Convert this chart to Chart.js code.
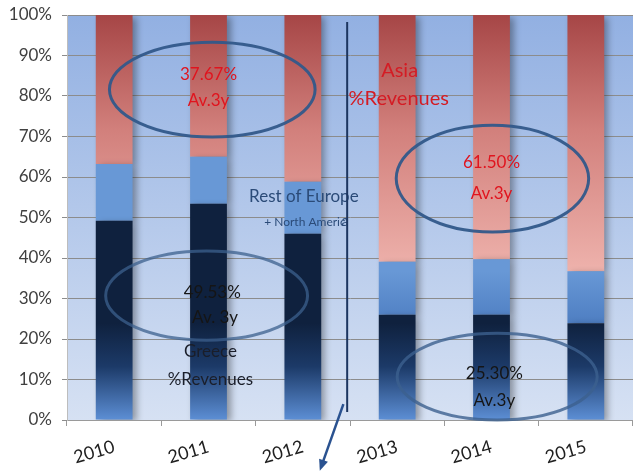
<!DOCTYPE html>
<html>
<head>
<meta charset="utf-8">
<script src="https://cdn.jsdelivr.net/npm/chart.js@4/dist/chart.umd.min.js"></script>
<style>
  html, body { margin: 0; padding: 0; background: #ffffff; }
  #wrap { width: 633px; height: 471px; }
</style>
</head>
<body>
<div id="wrap"><canvas id="chart" width="633" height="471"></canvas></div>
<script>
// Revenue split by region, share of total (%)
const years = ['2010', '2011', '2012', '2013', '2014', '2015'];
const greece = [49.2, 53.4, 46.0, 26.0, 26.0, 23.9];
const restOfEurope = [14.0, 11.6, 12.8, 13.1, 13.7, 12.8];
const asia = [36.8, 35.0, 41.2, 60.9, 60.3, 63.3];
const yTicks = [0, 10, 20, 30, 40, 50, 60, 70, 80, 90, 100];

const FONT = 'Lato, "Open Sans", sans-serif';

// Per-bar vertical gradients (top colour first)
const barGradients = [
  [[0, 'rgb(15,33,62)'], [0.45, 'rgb(28,58,104)'], [1, 'rgb(92,142,212)']],
  [[0, 'rgb(104,152,214)'], [1, 'rgb(78,126,194)']],
  [[0, 'rgb(166,70,70)'], [0.45, 'rgb(210,128,124)'], [1, 'rgb(238,178,172)']]
];

// Background of the plotting area
const areaBackground = {
  id: 'areaBackground',
  beforeDraw(chart) {
    const { ctx, chartArea: a } = chart;
    const g = ctx.createLinearGradient(0, a.top, 0, a.bottom);
    g.addColorStop(0, 'rgb(146,176,226)');
    g.addColorStop(1, 'rgb(214,225,243)');
    ctx.save();
    ctx.fillStyle = g;
    ctx.fillRect(a.left, a.top, a.right - a.left, a.bottom - a.top);
    ctx.restore();
  }
};

// Gradient fill for each bar and a soft drop shadow
const barStyling = {
  id: 'barStyling',
  beforeDatasetsDraw(chart) {
    const ctx = chart.ctx;
    chart.data.datasets.forEach((ds, di) => {
      const meta = chart.getDatasetMeta(di);
      meta.data.forEach(el => {
        const top = Math.min(el.y, el.base);
        const bottom = Math.max(el.y, el.base);
        const g = ctx.createLinearGradient(0, top, 0, bottom);
        barGradients[di].forEach(([p, c]) => g.addColorStop(p, c));
        el.options.backgroundColor = g;
      });
    });
    ctx.save();
    ctx.shadowColor = 'rgba(0,0,0,0.35)';
    ctx.shadowBlur = 7;
    ctx.shadowOffsetX = 4;
    ctx.shadowOffsetY = 2;
  },
  afterDatasetsDraw(chart) {
    chart.ctx.restore();
  }
};

// Callout ellipses (x in category units, y in percent)
const ellipses = [
  { x: 1.04, y: 81.6, rx: 1.09, ry: 11.7, color: 'rgba(50,88,138,0.95)' },
  { x: 4.01, y: 59.6, rx: 1.02, ry: 13.2, color: 'rgba(50,88,138,0.95)' },
  { x: 0.98, y: 30.7, rx: 1.07, ry: 11.0, color: 'rgba(60,96,142,0.75)' },
  { x: 4.06, y: 10.7, rx: 1.06, ry: 10.7, color: 'rgba(60,96,142,0.8)' }
];

const notes = [
  { text: '37.67%', x: 1.0, y: 85.2, size: 17, color: '#e0141e', align: 'center' },
  { text: 'Av.3y', x: 1.0, y: 78.8, size: 17, color: '#e0141e', align: 'center' },
  { text: '61.50%', x: 4.0, y: 63.5, size: 17, color: '#e0141e', align: 'center' },
  { text: 'Av.3y', x: 4.0, y: 56.0, size: 17, color: '#e0141e', align: 'center' },
  { text: '49.53%', x: 1.04, y: 31.6, size: 17, color: '#151515', align: 'center' },
  { text: 'Av. 3y', x: 1.07, y: 25.2, size: 17, color: '#151515', align: 'center' },
  { text: '25.30%', x: 4.03, y: 11.6, size: 17, color: '#151515', align: 'center' },
  { text: 'Av.3y', x: 4.03, y: 4.9, size: 17, color: '#151515', align: 'center' },
  { text: 'Greece', x: 1.02, y: 16.8, size: 17, color: '#1a1e2a', align: 'center' },
  { text: '%Revenues', x: 1.02, y: 10.1, size: 17, color: '#1a1e2a', align: 'center' },
  { text: 'Asia', x: 2.83, y: 86.4, size: 20, color: '#d41c24', align: 'left' },
  { text: '%Revenues', x: 2.485, y: 79.3, size: 20, color: '#d41c24', align: 'left' },
  { text: 'Rest of Europe', x: 1.43, y: 55.3, size: 17, color: '#2b4b78', align: 'left' },
  { text: '+ North Americ', x: 1.59, y: 48.9, size: 12, color: '#2b4b78', align: 'left' },
  { text: 'a', x: 2.41, y: 49.1, size: 15, color: '#2b4b78', align: 'left' }
];

const annotations = {
  id: 'annotations',
  afterDatasetsDraw(chart) {
    const { ctx, scales: { x, y } } = chart;
    const px = v => x.getPixelForValue(v);
    const py = v => y.getPixelForValue(v);
    const ux = px(1) - px(0);
    const uy = py(0) - py(1);
    ctx.save();

    ellipses.forEach(e => {
      ctx.beginPath();
      ctx.ellipse(px(e.x), py(e.y), e.rx * ux, e.ry * uy, 0, 0, Math.PI * 2);
      ctx.strokeStyle = e.color;
      ctx.lineWidth = 3;
      ctx.stroke();
    });

    ctx.textBaseline = 'middle';
    notes.forEach(n => {
      ctx.font = n.size + 'px ' + FONT;
      ctx.fillStyle = n.color;
      ctx.textAlign = n.align;
      ctx.fillText(n.text, px(n.x), py(n.y));
    });

    // divider between the two periods
    ctx.beginPath();
    ctx.moveTo(px(2.47), py(98.3));
    ctx.lineTo(px(2.47), py(2.0));
    ctx.strokeStyle = '#1c3560';
    ctx.lineWidth = 2;
    ctx.stroke();

    // arrow pointing down from the divider
    const x0 = px(2.43), y0 = py(3.9);
    const x1 = px(2.18), y1 = py(-12.5);
    const ang = Math.atan2(y1 - y0, x1 - x0);
    ctx.beginPath();
    ctx.moveTo(x0, y0);
    ctx.lineTo(x1 - 8 * Math.cos(ang), y1 - 8 * Math.sin(ang));
    ctx.strokeStyle = '#2a5290';
    ctx.lineWidth = 2.5;
    ctx.stroke();
    ctx.beginPath();
    ctx.moveTo(x1, y1);
    ctx.lineTo(x1 - 12 * Math.cos(ang - 0.4), y1 - 12 * Math.sin(ang - 0.4));
    ctx.lineTo(x1 - 12 * Math.cos(ang + 0.4), y1 - 12 * Math.sin(ang + 0.4));
    ctx.closePath();
    ctx.fillStyle = '#2a5290';
    ctx.fill();

    ctx.restore();
  }
};

new Chart(document.getElementById('chart'), {
  type: 'bar',
  data: {
    labels: years,
    datasets: [
      { label: 'Greece', data: greece, backgroundColor: 'rgb(30,60,105)' },
      { label: 'Rest of Europe + North America', data: restOfEurope, backgroundColor: 'rgb(90,140,205)' },
      { label: 'Asia', data: asia, backgroundColor: 'rgb(210,128,124)' }
    ]
  },
  options: {
    responsive: false,
    animation: false,
    devicePixelRatio: 1,
    layout: { padding: { top: 15, right: 0, left: 0, bottom: 0 } },
    datasets: { bar: { categoryPercentage: 1.0, barPercentage: 0.39, borderWidth: 0 } },
    plugins: { legend: { display: false }, tooltip: { enabled: false } },
    scales: {
      x: {
        stacked: true,
        grid: { display: true, drawOnChartArea: false, drawTicks: true, tickLength: 6, color: '#9a9a9a' },
        border: { color: '#9a9a9a' },
        ticks: {
          font: { family: FONT, size: 18 },
          color: '#202020',
          minRotation: 16,
          maxRotation: 16,
          padding: 10
        },
        afterFit(s) { s.height = 51; s.paddingLeft = 0; s.paddingRight = 0; }
      },
      y: {
        stacked: true,
        min: 0,
        max: 100,
        afterBuildTicks(s) { s.ticks = yTicks.map(v => ({ value: v })); },
        grid: { color: '#8c8c8c', tickLength: 5, lineWidth: 1 },
        border: { color: '#bdbdbd' },
        ticks: {
          font: { family: FONT, size: 17 },
          color: '#404040',
          padding: 10,
          callback: v => v + '%'
        },
        afterFit(s) { s.width = 67; s.paddingTop = 0; s.paddingBottom = 0; }
      }
    }
  },
  plugins: [areaBackground, barStyling, annotations]
});
</script>
</body>
</html>
